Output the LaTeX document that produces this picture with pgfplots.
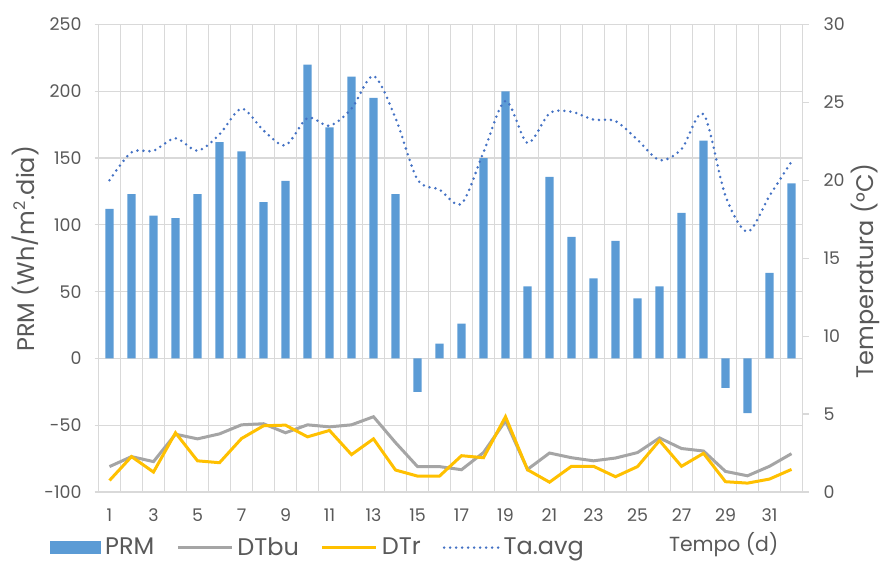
\documentclass[border=0pt]{standalone}
\usepackage{pgfplots}
\pgfplotsset{compat=1.18}
\usepackage{fontspec}
\setmainfont{Poppins}
\definecolor{barblue}{HTML}{5B9BD5}
\definecolor{dtbu}{HTML}{A5A5A5}
\definecolor{dtr}{HTML}{FFC000}
\definecolor{taavg}{HTML}{4472C4}
\definecolor{gridc}{HTML}{D9D9D9}
\definecolor{textc}{HTML}{595959}

\pgfplotsset{
  base/.style={
    at={(49.25pt,34.5pt)}, anchor=south west,
    scale only axis, width=352pt, height=233.75pt,
    xmin=0.5, xmax=32.5,
    tick align=outside,
    tick label style={font=\fontsize{8.7}{10}\selectfont, text=textc},
    label style={font=\fontsize{12}{14}\selectfont, text=textc},
    /pgf/number format/assume math mode=true,
    axis line style={draw=gridc, line width=0.6pt},
  },
}

\begin{document}
\begin{tikzpicture}
\path[use as bounding box] (0,0) rectangle (441pt,280.5pt);

% PRM bars, left axis
\begin{axis}[
  base,
  ymin=-100, ymax=250,
  ytick={-100,-50,...,250},
  xtick={1,3,...,31},
  minor xtick={0.5,1.5,...,32.5},
  xminorgrids, ymajorgrids,
  grid style={draw=gridc, line width=0.6pt},
  minor grid style={draw=gridc, line width=0.6pt},
  axis x line*=bottom, axis y line*=left,
  x tick style={draw=none},
  y tick style={draw=gridc, line width=0.6pt},
  major tick length=2pt,
  xticklabel style={yshift=-3pt},
  yticklabel style={xshift=-3pt},
  ylabel={PRM (Wh/m\textsuperscript{2}.dia)},
  ylabel style={at={(rel axis cs:-0.104,0.52)}, anchor=center, rotate=0},
  xlabel={Tempo (d)},
  xlabel style={at={(rel axis cs:0.888,-0.112)}, anchor=center, font=\fontsize{10.2}{12}\selectfont},
]
\addplot[ybar, bar width=0.37, fill=barblue, draw=none] coordinates {
  (1,112)(2,123)(3,107)(4,105)(5,123)(6,162)(7,155)(8,117)
  (9,133)(10,220)(11,173)(12,211)(13,195)(14,123)(15,-25)(16,11)
  (17,26)(18,150)(19,200)(20,54)(21,136)(22,91)(23,60)(24,88)
  (25,45)(26,54)(27,109)(28,163)(29,-22)(30,-41)(31,64)(32,131)};
\end{axis}

% temperatures, right axis
\begin{axis}[
  base,
  ymin=0, ymax=30,
  ytick={0,5,...,30},
  axis x line=none, axis y line*=right,
  y tick style={draw=gridc, line width=0.6pt},
  major tick length=3pt,
  yticklabel style={xshift=4pt},
  ylabel={Temperatura (°C)},
  ylabel style={at={(rel axis cs:1.089,0.473)}, anchor=center, rotate=0},
  legend image code/.code={\draw[#1] (0pt,0pt) -- (27pt,0pt);},
  legend style={at={(rel axis cs:-0.0689,-0.119)}, anchor=west,
    draw=none, fill=none, inner sep=0pt,
    font=\fontsize{12}{14}\selectfont, text=textc,
    /tikz/every even column/.append style={column sep=9pt}},
  legend columns=4,
]
\addlegendimage{legend image code/.code={\fill[barblue] (0pt,-3pt) rectangle (25pt,3pt);}}
\addlegendentry{PRM}
\addplot[dtbu, line width=1.5pt] coordinates {
  (1,1.63)(2,2.27)(3,1.95)(4,3.71)(5,3.41)(6,3.73)(7,4.31)(8,4.38)
  (9,3.80)(10,4.31)(11,4.18)(12,4.31)(13,4.83)(14,3.17)(15,1.63)(16,1.63)
  (17,1.43)(18,2.53)(19,4.57)(20,1.45)(21,2.50)(22,2.20)(23,2.00)(24,2.18)
  (25,2.53)(26,3.47)(27,2.79)(28,2.63)(29,1.32)(30,1.04)(31,1.65)(32,2.46)};
\addlegendentry{DTbu}
\addplot[dtr, line width=1.5pt] coordinates {
  (1,0.74)(2,2.27)(3,1.28)(4,3.80)(5,2.00)(6,1.88)(7,3.43)(8,4.25)
  (9,4.29)(10,3.54)(11,3.95)(12,2.40)(13,3.41)(14,1.41)(15,1.02)(16,1.02)
  (17,2.33)(18,2.20)(19,4.83)(20,1.43)(21,0.63)(22,1.65)(23,1.65)(24,0.98)
  (25,1.63)(26,3.30)(27,1.65)(28,2.48)(29,0.66)(30,0.57)(31,0.83)(32,1.45)};
\addlegendentry{DTr}
\addplot[taavg, line width=1.4pt, line cap=round, dash pattern=on 0pt off 3pt, smooth, tension=0.5] coordinates {
  (1,20.0)(2,21.8)(3,21.9)(4,22.7)(5,21.9)(6,22.95)(7,24.6)(8,23.2)
  (9,22.25)(10,24.0)(11,23.5)(12,24.6)(13,26.7)(14,24.0)(15,20.05)(16,19.4)
  (17,18.5)(18,21.8)(19,25.1)(20,22.4)(21,24.3)(22,24.4)(23,23.9)(24,23.8)
  (25,22.6)(26,21.3)(27,22.0)(28,24.25)(29,19.0)(30,16.7)(31,19.0)(32,21.2)};
\addlegendentry{Ta.avg}
\end{axis}
\end{tikzpicture}
\end{document}
